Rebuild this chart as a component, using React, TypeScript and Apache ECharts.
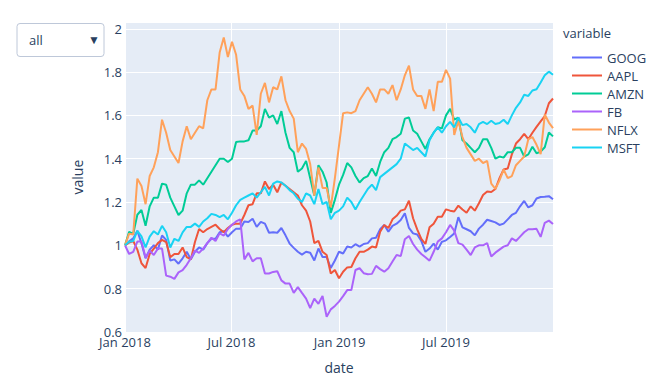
import React, { useEffect, useRef } from "react";
import * as echarts from "echarts";

const SERIES_NAMES = ["GOOG", "AAPL", "AMZN", "FB", "NFLX", "MSFT"];
const COLORS = ["#636efa", "#EF553B", "#00cc96", "#ab63fa", "#FFA15A", "#19d3f3"];
const Y_TICKS = [0.6, 0.8, 1, 1.2, 1.4, 1.6, 1.8, 2];
const MONTHS = ["Jan", "Feb", "Mar", "Apr", "May", "Jun", "Jul", "Aug", "Sep", "Oct", "Nov", "Dec"];
const START_DATE = "2018-01-01";
const END_DATE = "2019-12-30";

const GOOG = [
  1.0, 1.018, 1.032, 1.067, 1.009, 0.94, 0.98, 1.0, 0.98, 1.045, 1.025, 0.93, 0.935, 0.915, 0.94, 0.97,
  0.935, 0.97, 0.99, 0.98, 1.01, 1.03, 1.03, 1.06, 1.065, 1.04, 1.06, 1.077, 1.077, 1.11, 1.108, 1.123,
  1.085, 1.108, 1.1, 1.058, 1.06, 1.058, 1.08, 1.046, 1.008, 0.988, 0.97, 0.957, 0.97, 0.966, 0.93, 0.985,
  0.946, 0.946, 0.895, 0.93, 0.97, 0.962, 0.994, 0.99, 1.005, 0.994, 1.006, 1.01, 1.032, 1.035, 1.074, 1.094,
  1.063, 1.09, 1.1, 1.117, 1.148, 1.08, 1.055, 1.05, 1.02, 0.97, 0.985, 1.008, 0.98, 1.016, 1.023, 1.038,
  1.055, 1.13, 1.083, 1.074, 1.065, 1.046, 1.077, 1.095, 1.118, 1.112, 1.106, 1.094, 1.1, 1.12, 1.14, 1.15,
  1.18, 1.205, 1.175, 1.185, 1.216, 1.223, 1.224, 1.227, 1.213,
];
const AAPL = [
  1.0, 1.012, 1.02, 0.98, 0.917, 0.895, 0.96, 0.985, 1.01, 1.025, 1.015, 0.945, 0.96, 0.96, 0.99, 0.945,
  0.935, 1.015, 1.075, 1.06, 1.075, 1.085, 1.095, 1.075, 1.06, 1.08, 1.095, 1.1, 1.1, 1.14, 1.185, 1.19,
  1.24, 1.24, 1.295, 1.26, 1.28, 1.245, 1.29, 1.275, 1.26, 1.245, 1.23, 1.185, 1.16, 1.11, 1.01, 1.02,
  0.97, 0.955, 0.87, 0.886, 0.848, 0.878, 0.898, 0.9, 0.94, 0.97, 0.97, 0.98, 0.994, 0.99, 1.063, 1.094,
  1.08, 1.12, 1.136, 1.16, 1.166, 1.206, 1.125, 1.074, 1.03, 1.006, 1.083, 1.1, 1.132, 1.132, 1.166, 1.16,
  1.156, 1.183, 1.165, 1.15, 1.18, 1.16, 1.194, 1.232, 1.248, 1.246, 1.26, 1.31, 1.35, 1.355, 1.42, 1.47,
  1.49, 1.515, 1.49, 1.52, 1.547, 1.572, 1.597, 1.656, 1.678,
];
const AMZN = [
  1.0, 1.062, 1.053, 1.141, 1.163, 1.09, 1.18, 1.22, 1.22, 1.285, 1.28, 1.22, 1.18, 1.14, 1.16, 1.24,
  1.28, 1.28, 1.3, 1.28, 1.31, 1.34, 1.37, 1.4, 1.4, 1.385, 1.4, 1.477, 1.48, 1.48, 1.485, 1.53,
  1.53, 1.55, 1.63, 1.59, 1.6, 1.56, 1.62, 1.52, 1.45, 1.43, 1.34, 1.355, 1.39, 1.31, 1.23, 1.37,
  1.34, 1.29, 1.15, 1.21, 1.28, 1.325, 1.38, 1.36, 1.32, 1.29, 1.31, 1.32, 1.355, 1.32, 1.385, 1.43,
  1.45, 1.49, 1.5, 1.515, 1.585, 1.59, 1.53, 1.515, 1.48, 1.445, 1.49, 1.52, 1.545, 1.54, 1.6, 1.63,
  1.58, 1.59, 1.485, 1.47, 1.45, 1.43, 1.45, 1.49, 1.49, 1.45, 1.4, 1.41, 1.405, 1.43, 1.43, 1.45,
  1.45, 1.41, 1.42, 1.455, 1.425, 1.433, 1.453, 1.521, 1.503,
];
const FB = [
  1.0, 0.96, 0.97, 1.017, 1.018, 0.943, 0.975, 0.955, 0.985, 0.985, 0.86, 0.855, 0.845, 0.875, 0.885, 0.91,
  0.94, 0.975, 0.965, 0.985, 1.01, 1.035, 1.02, 1.055, 1.045, 1.075, 1.095, 1.11, 1.12, 0.935, 0.965, 0.926,
  0.94, 0.94, 0.87, 0.87, 0.877, 0.88, 0.838, 0.823, 0.823, 0.78, 0.807, 0.78, 0.754, 0.71, 0.754, 0.73,
  0.766, 0.67, 0.704, 0.72, 0.74, 0.765, 0.793, 0.793, 0.886, 0.894, 0.871, 0.866, 0.868, 0.905, 0.89, 0.878,
  0.894, 0.925, 0.955, 0.95, 1.028, 1.043, 1.006, 0.98, 0.96, 0.945, 0.929, 0.97, 1.017, 1.032, 1.06, 1.094,
  1.068, 1.01, 1.003, 0.98, 0.955, 0.99, 1.0, 1.0, 1.01, 0.948, 0.966, 0.98, 0.994, 1.0, 1.032, 1.02,
  1.04, 1.06, 1.074, 1.074, 1.076, 1.039, 1.104, 1.114, 1.098,
];
const NFLX = [
  1.0, 1.054, 1.05, 1.308, 1.274, 1.19, 1.32, 1.36, 1.43, 1.58, 1.52, 1.44, 1.41, 1.38, 1.48, 1.55,
  1.49, 1.52, 1.55, 1.54, 1.67, 1.72, 1.72, 1.89, 1.96, 1.87, 1.94, 1.88, 1.72, 1.69, 1.63, 1.645,
  1.51, 1.7, 1.75, 1.66, 1.73, 1.72, 1.78, 1.67, 1.62, 1.585, 1.43, 1.47, 1.445, 1.375, 1.23, 1.36,
  1.265, 1.265, 1.175, 1.31, 1.46, 1.61, 1.614, 1.61, 1.62, 1.67, 1.7, 1.73, 1.7, 1.66, 1.72, 1.72,
  1.7, 1.74, 1.67, 1.72, 1.785, 1.83, 1.72, 1.69, 1.69, 1.63, 1.72, 1.62, 1.755, 1.755, 1.81, 1.77,
  1.51, 1.575, 1.5, 1.45, 1.42, 1.39, 1.4, 1.38, 1.39, 1.285, 1.26, 1.3, 1.35, 1.31, 1.32, 1.37,
  1.39, 1.41, 1.49, 1.5, 1.464, 1.421, 1.604, 1.567, 1.541,
];
const MSFT = [
  1.0, 1.016, 1.02, 1.067, 1.041, 0.99, 1.04, 1.065, 1.05, 1.09, 1.06, 0.99, 1.03, 1.02, 1.06, 1.085,
  1.085, 1.1, 1.085, 1.11, 1.125, 1.145, 1.14, 1.13, 1.14, 1.12, 1.15, 1.185, 1.21, 1.22, 1.23, 1.24,
  1.22, 1.245, 1.27, 1.23, 1.285, 1.295, 1.29, 1.275, 1.255, 1.24, 1.215, 1.2, 1.24, 1.23, 1.19, 1.26,
  1.19, 1.2, 1.12, 1.15, 1.16, 1.18, 1.22, 1.2, 1.165, 1.2, 1.23, 1.26, 1.28, 1.255, 1.315, 1.33,
  1.345, 1.36, 1.375, 1.4, 1.47, 1.455, 1.44, 1.45, 1.43, 1.41, 1.485, 1.52, 1.545, 1.52, 1.55, 1.57,
  1.545, 1.59, 1.555, 1.56, 1.545, 1.52, 1.56, 1.57, 1.56, 1.575, 1.56, 1.565, 1.58, 1.56, 1.6, 1.635,
  1.66, 1.695, 1.69, 1.715, 1.721, 1.752, 1.785, 1.802, 1.788,
];

const SERIES_VALUES = [GOOG, AAPL, AMZN, FB, NFLX, MSFT];

const TEXT_COLOR = "#2a3f5f";
const FONT = "'Open Sans', 'Noto Sans', sans-serif";

function weeklyDates(start: string, count: number): number[] {
  const t0 = Date.parse(start + "T00:00:00Z");
  const out: number[] = [];
  for (let i = 0; i < count; i++) out.push(t0 + i * 7 * 86400000);
  return out;
}

export default function App() {
  const ref = useRef<HTMLDivElement>(null);

  useEffect(() => {
    if (!ref.current) return;
    const chart = echarts.init(ref.current, null, { renderer: "svg" });
    const dates = weeklyDates(START_DATE, GOOG.length);
    const xMin = Date.parse(START_DATE + "T00:00:00Z");
    const xMax = Date.parse(END_DATE + "T00:00:00Z");

    const option: any = {
      animation: false,
      useUTC: true,
      backgroundColor: "#ffffff",
      textStyle: { fontFamily: FONT },
      grid: {
        left: 125,
        right: 107,
        top: 22.3,
        bottom: 55.1,
        show: true,
        backgroundColor: "#E5ECF6",
        borderWidth: 0,
        containLabel: false,
      },
      xAxis: {
        type: "time",
        min: xMin,
        max: xMax,
        splitNumber: 4,
        minInterval: 181 * 86400000,
        maxInterval: 184 * 86400000,
        name: "date",
        nameLocation: "middle",
        nameGap: 29,
        nameTextStyle: { color: TEXT_COLOR, fontSize: 14, fontFamily: FONT },
        axisLine: { show: false },
        axisTick: { show: false },
        axisLabel: {
          color: TEXT_COLOR,
          fontSize: 13,
          fontFamily: FONT,
          margin: 4,
          hideOverlap: false,
          formatter: (val: number) => {
            const d = new Date(val);
            return MONTHS[d.getUTCMonth()] + " " + d.getUTCFullYear();
          },
        },
        splitLine: { show: true, lineStyle: { color: "#ffffff", width: 1 } },
      },
      yAxis: {
        type: "value",
        min: Y_TICKS[0],
        max: 2.03,
        interval: 0.2,
        name: "value",
        nameLocation: "middle",
        nameGap: 41,
        nameTextStyle: { color: TEXT_COLOR, fontSize: 14, fontFamily: FONT },
        axisLine: { show: false },
        axisTick: { show: false },
        axisLabel: {
          color: TEXT_COLOR,
          fontSize: 13,
          fontFamily: FONT,
          margin: 3,
          showMaxLabel: false,
          formatter: (v: number) => {
            const r = Math.round(v * 10) / 10;
            return Y_TICKS.some((t) => Math.abs(t - r) < 1e-6) ? String(r) : "";
          },
        },
        splitLine: { show: true, lineStyle: { color: "#ffffff", width: 1 } },
      },
      legend: {
        orient: "vertical",
        left: 566,
        top: 46,
        itemWidth: 30,
        itemHeight: 14,
        itemGap: 5,
        data: SERIES_NAMES,
        itemStyle: { opacity: 0 },
        textStyle: { color: TEXT_COLOR, fontSize: 13, fontFamily: FONT },
      },
      graphic: [
        {
          type: "text",
          left: 563,
          top: 26,
          style: { text: "variable", fill: TEXT_COLOR, fontSize: 13, fontFamily: FONT },
        },
        {
          type: "rect",
          shape: { x: 17, y: 23.5, width: 87, height: 33, r: 3 },
          style: { fill: "#ffffff", stroke: "#BEC8D9", lineWidth: 1 },
        },
        {
          type: "text",
          x: 29,
          y: 40,
          style: { text: "all", fill: TEXT_COLOR, fontSize: 13, fontFamily: FONT, verticalAlign: "middle" },
        },
        {
          type: "text",
          x: 94,
          y: 39,
          style: {
            text: "▼",
            fill: TEXT_COLOR,
            fontSize: 12,
            fontFamily: FONT,
            align: "center",
            verticalAlign: "middle",
          },
        },
      ],
      series: SERIES_NAMES.map((name, k) => ({
        name,
        type: "line",
        symbol: "none",
        showSymbol: false,
        color: COLORS[k],
        itemStyle: { opacity: 0, color: COLORS[k] },
        lineStyle: { width: 2, color: COLORS[k] },
        data: SERIES_VALUES[k].map((v, i) => [dates[i], v]),
      })),
    };

    chart.setOption(option);
    return () => chart.dispose();
  }, []);

  return (
    <div
      ref={ref}
      style={{ position: "fixed", left: 0, top: 0, width: 660, height: 387, background: "#fff" }}
    />
  );
}
